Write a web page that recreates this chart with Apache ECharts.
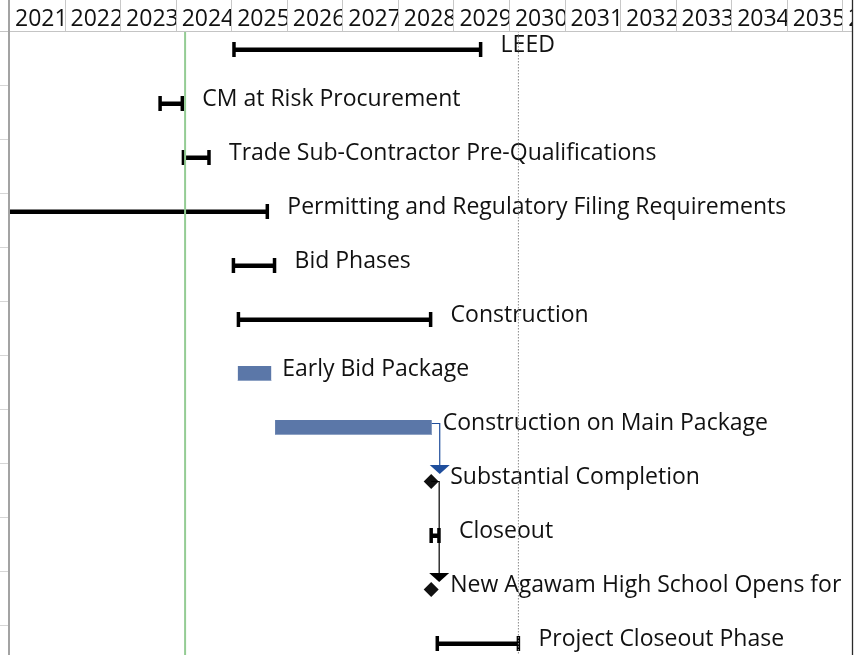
<!DOCTYPE html>
<html>
<head>
<meta charset="utf-8">
<title>Agawam HS schedule</title>
<script src="https://cdn.jsdelivr.net/npm/echarts@6/dist/echarts.min.js"></script>
<style>
html, body { margin: 0; padding: 0; background: #fff; }
#main { width: 867px; height: 655px; }
</style>
</head>
<body>
<div id="main"></div>
<script>
"use strict";

// 任务行（从上到下）
const taskNames = [
    'LEED',
    'CM at Risk Procurement',
    'Trade Sub-Contractor Pre-Qualifications',
    'Permitting and Regulatory Filing Requirements',
    'Bid Phases',
    'Construction',
    'Early Bid Package',
    'Construction on Main Package',
    'Substantial Completion',
    'Closeout',
    'New Agawam High School Opens for',
    'Project Closeout Phase'
];
const taskKinds = ['summary', 'summary', 'summary', 'summary', 'summary', 'summary',
    'task', 'task', 'milestone', 'summary', 'milestone', 'summary'];
// 开始 / 结束（年，小数）
const taskStart = [2025.05, 2023.72, 2024.14, 2019.80, 2025.04, 2025.13, 2025.12, 2025.79, 2028.60, 2028.60, 2028.60, 2028.71];
const taskEnd = [2029.49, 2024.12, 2024.60, 2025.65, 2025.78, 2028.59, 2025.72, 2028.61, 2028.60, 2028.74, 2028.60, 2030.17];
// 前置关系 [from, to]
const taskLinks = [[7, 8], [8, 10]];
// 时间刻度
const yearLabels = [2021, 2022, 2023, 2024, 2025, 2026, 2027, 2028, 2029, 2030, 2031, 2032, 2033, 2034, 2035, 2036];
const currentDate = 2024.17;
const finishDate = 2030.17;

// 样式
const FONT = 'Open Sans';
const linkColors = ['#1f4e9c', '#000000'];
const ROW_H = 54;
const HEAD_H = 31;
const YEAR_W = 55.55;
const X_MIN = 2021;
const X_MAX = 2021 + 843 / YEAR_W;

let myChart = echarts.init(document.getElementById('main'));

// 表头：年份格子（后画的格子盖住前一格溢出的文字）
function renderHeader(params, api) {
    let y = yearLabels[params.dataIndex];
    let x0 = api.coord([y, 0])[0];
    let x1 = api.coord([y + 1, 0])[0];
    return {
        type: 'group',
        children: [
            {
                type: 'rect',
                shape: {x: x0 + 0.5, y: 0, width: x1 - x0, height: HEAD_H},
                style: {fill: '#fff'},
            },
            {
                type: 'text',
                x: x0 + 6,
                y: 19,
                style: {text: String(y), fill: '#111', font: '23px "' + FONT + '"', align: 'left', verticalAlign: 'middle'},
            },
            {
                type: 'line',
                z2: 10,
                shape: {x1: Math.round(x1) + 0.5, y1: 0, x2: Math.round(x1) + 0.5, y2: HEAD_H},
                style: {stroke: '#c8c8c8', lineWidth: 1},
            },
        ],
    };
}

// 任务条
function renderTask(params, api) {
    let i = params.dataIndex;
    let kind = taskKinds[i];
    let p1 = api.coord([taskStart[i], i]);
    let p2 = api.coord([taskEnd[i], i]);
    let c = p1[1];
    let children = [];
    let labelX;
    if (kind === 'summary') {
        children.push({type: 'rect', shape: {x: p1[0], y: c - 2, width: p2[0] - p1[0], height: 4.5}, style: {fill: '#000'}});
        children.push({type: 'rect', shape: {x: p1[0] - 1.75, y: c - 7.5, width: 3.5, height: 15}, style: {fill: '#000'}});
        children.push({type: 'rect', shape: {x: p2[0] - 1.75, y: c - 7.5, width: 3.5, height: 15}, style: {fill: '#000'}});
        labelX = p2[0] + 20;
    }
    else if (kind === 'task') {
        children.push({type: 'rect', shape: {x: p1[0], y: c - 7.5, width: p2[0] - p1[0], height: 15}, style: {fill: '#5b77a8'}});
        children.push({type: 'rect', shape: {x: p1[0], y: c + 6.5, width: p2[0] - p1[0], height: 1}, style: {fill: '#8ea2c4'}});
        labelX = p2[0] + 11;
    }
    else {
        let x = p1[0];
        children.push({
            type: 'polygon',
            shape: {points: [[x, c - 7.5], [x + 7.5, c], [x, c + 7.5], [x - 7.5, c]]},
            style: {fill: '#111'},
        });
        labelX = x + 19;
    }
    children.push({
        type: 'text',
        x: labelX,
        y: c - 4,
        style: {text: taskNames[i], fill: '#111', font: '23px "' + FONT + '"', align: 'left', verticalAlign: 'middle'},
    });
    return {type: 'group', children: children};
}

// 依赖箭头
function renderLink(params, api) {
    let link = taskLinks[params.dataIndex];
    let a = link[0], b = link[1];
    let pa = api.coord([taskEnd[a], a]);
    let pb = api.coord([taskStart[b], b]);
    let color = linkColors[params.dataIndex];
    let xv = pa[0] + 8;
    let ya = taskKinds[a] === 'task' ? pa[1] - 4 : pa[1];
    let tip = pb[1] - 7.5;
    return {
        type: 'group',
        children: [
            {
                type: 'polyline',
                shape: {points: [[pa[0], ya], [xv, ya], [xv, tip - 8]]},
                style: {stroke: color, lineWidth: 1.2, fill: null},
            },
            {
                type: 'polygon',
                shape: {points: [[xv - 10, tip - 9], [xv + 10, tip - 9], [xv, tip]]},
                style: {fill: color},
            },
        ],
    };
}

// 竖线（当前日期 / 完成日期）
function renderVLine(color, dash, width) {
    return function (params, api) {
        let x = api.coord([api.value(0), 0])[0];
        let top = params.coordSys.y;
        let bottom = top + params.coordSys.height;
        return {
            type: 'line',
            shape: {x1: x, y1: top, x2: x, y2: bottom},
            style: {stroke: color, lineWidth: width, lineDash: dash},
        };
    };
}

// 左侧表格行线
let graphics = [];
for (let k = 1; k <= 11; k++) {
    let y = HEAD_H + ROW_H * k + 0.5;
    graphics.push({type: 'line', shape: {x1: 0, y1: y, x2: 8, y2: y}, style: {stroke: '#d6d6d6', lineWidth: 1}});
}
graphics.push({type: 'line', z: 20, shape: {x1: 0, y1: HEAD_H + 0.5, x2: 852, y2: HEAD_H + 0.5}, style: {stroke: '#c4c4c4', lineWidth: 1}});
graphics.push({type: 'line', z: 20, shape: {x1: 9, y1: 0, x2: 9, y2: 655}, style: {stroke: '#a3a3a3', lineWidth: 2}});
graphics.push({type: 'line', z: 20, shape: {x1: 852.5, y1: 0, x2: 852.5, y2: 655}, style: {stroke: '#2a2a2a', lineWidth: 1.3}});

let option = {
    animation: false,
    backgroundColor: '#fff',
    grid: [
        {left: 9, right: 15, top: HEAD_H, bottom: 0},
        {left: 9, right: 15, top: 0, height: HEAD_H},
    ],
    xAxis: [
        {gridIndex: 0, type: 'value', min: X_MIN, max: X_MAX, show: false},
        {gridIndex: 1, type: 'value', min: X_MIN, max: X_MAX, show: false},
    ],
    yAxis: [
        {gridIndex: 0, type: 'value', inverse: true, min: -18.5 / ROW_H, max: (655 - HEAD_H - 18.5) / ROW_H, show: false},
        {gridIndex: 1, type: 'value', min: 0, max: 1, show: false},
    ],
    graphic: graphics,
    series: [
        {
            name: 'header',
            type: 'custom',
            xAxisIndex: 1,
            yAxisIndex: 1,
            clip: true,
            renderItem: renderHeader,
            data: yearLabels.map((y) => [y]),
        },
        {
            name: 'tasks',
            type: 'custom',
            clip: true,
            renderItem: renderTask,
            encode: {x: [0, 1], y: 2},
            data: taskNames.map((n, i) => [taskStart[i], taskEnd[i], i]),
            z: 2,
        },
        {
            name: 'links',
            type: 'custom',
            clip: true,
            renderItem: renderLink,
            data: taskLinks.map((l, i) => [i]),
            z: 3,
        },
        {
            name: 'current',
            type: 'custom',
            clip: true,
            renderItem: renderVLine('#94cc94', null, 2),
            data: [[currentDate]],
            z: 4,
        },
        {
            name: 'finish',
            type: 'custom',
            clip: true,
            renderItem: renderVLine('#8a8a8a', [1.5, 1.5], 1),
            data: [[finishDate]],
            z: 4,
        },
    ],
};

myChart.setOption(option);
</script>
</body>
</html>
